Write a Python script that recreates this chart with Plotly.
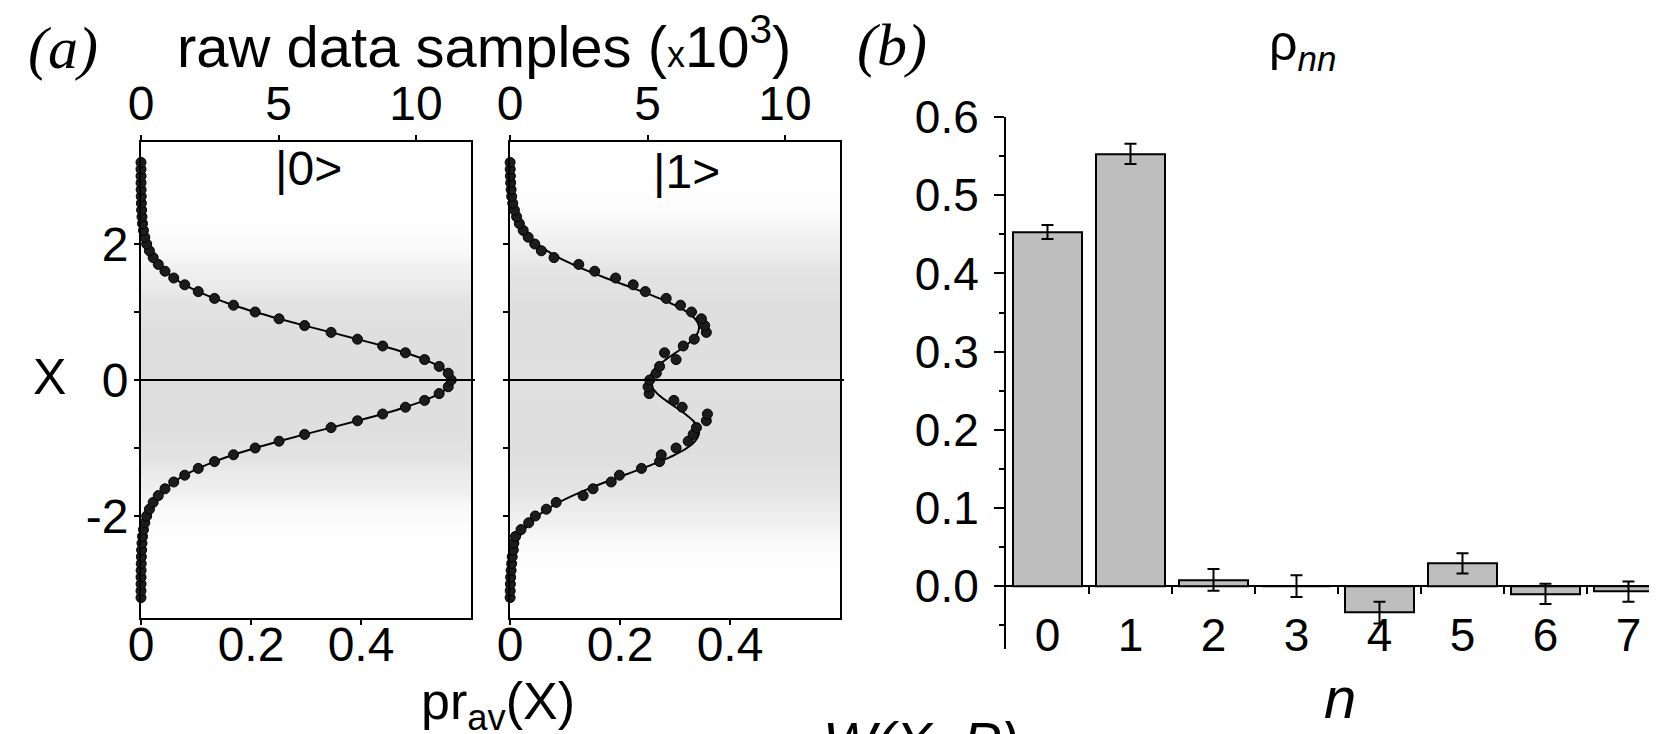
import plotly.graph_objects as go

# ---------------- data ----------------
X_GRID = [-3.2, -3.1, -3.0, -2.9, -2.8, -2.7, -2.6, -2.5, -2.4, -2.3, -2.2, -2.1, -2.0,
          -1.9, -1.8, -1.7, -1.6, -1.5, -1.4, -1.3, -1.2, -1.1, -1.0, -0.9, -0.8, -0.7,
          -0.6, -0.5, -0.4, -0.3, -0.2, -0.1, 0.0, 0.1, 0.2, 0.3, 0.4, 0.5, 0.6, 0.7,
          0.8, 0.9, 1.0, 1.1, 1.2, 1.3, 1.4, 1.5, 1.6, 1.7, 1.8, 1.9, 2.0, 2.1, 2.2,
          2.3, 2.4, 2.5, 2.6, 2.7, 2.8, 2.9, 3.0, 3.1, 3.2]

# |0> : fitted curve and measured points (points sit on the curve)
fit0 = [0.0000, 0.0000, 0.0001, 0.0001, 0.0002, 0.0004, 0.0007, 0.0011, 0.0018, 0.0028,
        0.0045, 0.0069, 0.0103, 0.0153, 0.0221, 0.0314, 0.0436, 0.0595, 0.0795, 0.1041,
        0.1337, 0.1682, 0.2076, 0.2510, 0.2975, 0.3456, 0.3936, 0.4394, 0.4808, 0.5156,
        0.5421, 0.5586, 0.5642, 0.5586, 0.5421, 0.5156, 0.4808, 0.4394, 0.3936, 0.3456,
        0.2975, 0.2510, 0.2076, 0.1682, 0.1337, 0.1041, 0.0795, 0.0595, 0.0436, 0.0314,
        0.0221, 0.0153, 0.0103, 0.0069, 0.0045, 0.0028, 0.0018, 0.0011, 0.0007, 0.0004,
        0.0002, 0.0001, 0.0001, 0.0000, 0.0000]
meas0 = [0.0000, 0.0000, 0.0001, 0.0001, 0.0002, 0.0004, 0.0007, 0.0011, 0.0018, 0.0028,
         0.0045, 0.0069, 0.0103, 0.0153, 0.0221, 0.0314, 0.0436, 0.0595, 0.0795, 0.1041,
         0.1337, 0.1682, 0.2076, 0.2510, 0.2975, 0.3456, 0.3936, 0.4394, 0.4808, 0.5156,
         0.5421, 0.5586, 0.5642, 0.5586, 0.5421, 0.5156, 0.4808, 0.4394, 0.3936, 0.3456,
         0.2975, 0.2510, 0.2076, 0.1682, 0.1337, 0.1041, 0.0795, 0.0595, 0.0436, 0.0314,
         0.0221, 0.0153, 0.0103, 0.0069, 0.0045, 0.0028, 0.0018, 0.0011, 0.0007, 0.0004,
         0.0002, 0.0001, 0.0001, 0.0000, 0.0000]

# |1> : fitted curve and measured points
fit1 = [0.0002, 0.0004, 0.0007, 0.0012, 0.0020, 0.0033, 0.0052, 0.0081, 0.0122, 0.0176,
        0.0260, 0.0366, 0.0500, 0.0676, 0.0887, 0.1140, 0.1424, 0.1740, 0.2072, 0.2404,
        0.2719, 0.2996, 0.3218, 0.3366, 0.3433, 0.3418, 0.3330, 0.3186, 0.3010, 0.2831,
        0.2678, 0.2575, 0.2539, 0.2575, 0.2678, 0.2831, 0.3010, 0.3186, 0.3330, 0.3418,
        0.3433, 0.3366, 0.3218, 0.2996, 0.2719, 0.2404, 0.2072, 0.1740, 0.1424, 0.1140,
        0.0887, 0.0676, 0.0500, 0.0366, 0.0260, 0.0176, 0.0122, 0.0081, 0.0052, 0.0033,
        0.0020, 0.0012, 0.0007, 0.0004, 0.0002]
meas1 = [0.0002, 0.0004, 0.0007, 0.0012, 0.0020, 0.0030, 0.0040, 0.0060, 0.0070, 0.0100,
         0.0200, 0.0340, 0.0460, 0.0660, 0.0840, 0.1330, 0.1510, 0.1840, 0.1990, 0.2390,
         0.2720, 0.2750, 0.3020, 0.3240, 0.3330, 0.3390, 0.3570, 0.3590, 0.3130, 0.2980,
         0.2530, 0.2510, 0.2540, 0.2660, 0.2720, 0.3020, 0.2810, 0.3150, 0.3350, 0.3570,
         0.3540, 0.3480, 0.3300, 0.3100, 0.2840, 0.2460, 0.2240, 0.1920, 0.1540, 0.1250,
         0.0800, 0.0570, 0.0450, 0.0330, 0.0240, 0.0170, 0.0120, 0.0080, 0.0050, 0.0030,
         0.0020, 0.0012, 0.0007, 0.0004, 0.0002]

SAMPLE_SPAN = [0, 12]          # raw data sample index range (x10^3)

# (b) diagonal density-matrix elements
n_vals = [0, 1, 2, 3, 4, 5, 6, 7]
rho_nn = [0.453, 0.553, 0.008, 0.000, -0.034, 0.029, -0.010, -0.007]
rho_err = [0.009, 0.013, 0.014, 0.014, 0.014, 0.013, 0.013, 0.013]

# ---------------- figure ----------------
W, H = 1657, 734
SANS = "Liberation Sans, Arial, sans-serif"
SERIF = "Liberation Serif, Times New Roman, serif"

def px_x(p):
    return p / W

def px_y(p):
    return 1 - p / H

fig = go.Figure()

cloud_scale = [[0.0, "#ffffff"], [0.02, "#fcfcfc"], [0.12, "#f0f0f0"],
               [0.45, "#e4e4e4"], [1.0, "#dfdfdf"]]

# samples axes (x, x3) are the base axes; pr axes (x2, x4) overlay them
for xs, xp, ya, fit, meas in [("x", "x2", "y", fit0, meas0), ("x3", "x4", "y2", fit1, meas1)]:
    fig.add_trace(go.Heatmap(
        x=SAMPLE_SPAN, y=X_GRID, z=[[v, v] for v in fit],
        xaxis=xs, yaxis=ya, colorscale=cloud_scale, zmin=0, zmax=0.3,
        zsmooth="best", showscale=False, hoverinfo="skip"))
    fig.add_trace(go.Scatter(
        x=fit, y=X_GRID, xaxis=xp, yaxis=ya, mode="lines",
        line=dict(color="black", width=2, shape="spline"),
        cliponaxis=False, showlegend=False, hoverinfo="skip"))
    fig.add_trace(go.Scatter(
        x=meas, y=X_GRID, xaxis=xp, yaxis=ya, mode="markers",
        marker=dict(size=10, color="#1c1c1c", line=dict(width=1, color="#000000")),
        cliponaxis=False, showlegend=False))

fig.add_trace(go.Bar(
    x=n_vals, y=rho_nn, xaxis="x5", yaxis="y3", width=0.82,
    marker=dict(color="#bebebe", line=dict(color="black", width=2)),
    error_y=dict(type="data", array=rho_err, color="black", thickness=2, width=6),
    showlegend=False))

ax_common = dict(showgrid=False, zeroline=False, showline=True, linecolor="black",
                 linewidth=2, ticks="outside", ticklen=5, tickwidth=2, tickcolor="black",
                 automargin=False,
                 tickfont=dict(family=SANS, size=48, color="black"))

A1 = [px_x(133), px_x(463)]
A2 = [px_x(502), px_x(832)]
AY = [px_y(610), px_y(134)]

pr_ticks = dict(tickvals=[0, 0.2, 0.4], ticktext=["0", "0.2", "0.4"], range=[0, 0.6],
                ticklabelstandoff=-22)
smp_ticks = dict(tickvals=[0, 5, 10], ticktext=["0", "5", "10"], range=[0, 12],
                 ticklabelstandoff=-4)
y_ticks = dict(range=[-3.5, 3.5], tickvals=[-2, 0, 2], ticktext=["-2", "0", "2"],
               ticklabelstandoff=-4,
               minor=dict(tickvals=[-1, 1], ticks="outside", ticklen=5, tickwidth=2,
                          tickcolor="black"))

fig.update_layout(
    width=W, height=H, margin=dict(l=0, r=0, t=0, b=0, autoexpand=False),
    paper_bgcolor="white", plot_bgcolor="white",
    showlegend=False, bargap=0,
    xaxis=dict(domain=A1, anchor="y", side="top", mirror=True, **smp_ticks, **ax_common),
    xaxis2=dict(overlaying="x", anchor="y", side="bottom", **pr_ticks, **ax_common),
    yaxis=dict(domain=AY, anchor="x", mirror=True, **y_ticks, **ax_common),
    xaxis3=dict(domain=A2, anchor="y2", side="top", mirror=True, **smp_ticks, **ax_common),
    xaxis4=dict(overlaying="x3", anchor="y2", side="bottom", **pr_ticks, **ax_common),
    yaxis2=dict(domain=AY, anchor="x3", mirror=True, showticklabels=False,
                **y_ticks, **ax_common),
    xaxis5=dict(domain=[px_x(998), 1.0], range=[-0.5, 7.44], anchor="free",
                position=px_y(578), showgrid=False, zeroline=False, showline=False,
                automargin=False,
                tickvals=n_vals, ticktext=[str(v) for v in n_vals], ticks="",
                ticklabelstandoff=18,
                tickfont=dict(family=SANS, size=46, color="black"),
                minor=dict(tickvals=[0.5, 1.5, 2.5, 3.5, 4.5, 5.5, 6.5], ticks="outside",
                           ticklen=7, tickwidth=2, tickcolor="black")),
    yaxis3=dict(domain=[px_y(640.6), px_y(109.2)], range=[-0.08, 0.6], anchor="x5",
                showgrid=False, zeroline=True, zerolinecolor="black", zerolinewidth=2,
                showline=True, linecolor="black", linewidth=2, automargin=False,
                tickvals=[0.0, 0.1, 0.2, 0.3, 0.4, 0.5, 0.6], tickformat=".1f",
                ticks="outside", ticklen=10, tickwidth=2, tickcolor="black",
                ticklabelstandoff=6,
                tickfont=dict(family=SANS, size=46, color="black"),
                minor=dict(tickvals=[-0.05, 0.05, 0.15, 0.25, 0.35, 0.45, 0.55],
                           ticks="outside", ticklen=5, tickwidth=2, tickcolor="black")),
)

for yref, xref in [("y", "x domain"), ("y2", "x3 domain")]:
    fig.add_shape(type="line", xref=xref, yref=yref, x0=-0.012, x1=1.012, y0=0, y1=0,
                  line=dict(color="black", width=2), layer="above")

def note(text, x, y, size, family=SANS, xanchor="center", yanchor="middle", italic=False):
    fig.add_annotation(text=f"<i>{text}</i>" if italic else text,
                       x=x, y=y, xref="paper", yref="paper", showarrow=False,
                       xanchor=xanchor, yanchor=yanchor,
                       font=dict(family=family, size=size, color="black"))

note("(a)", px_x(55), px_y(40), 60, family=SERIF, italic=True)
note("raw data samples (<span style='font-size:36px'>x</span>10<sup>3</sup>)",
     px_x(476), px_y(34), 58)
note("(b)", px_x(884), px_y(37), 60, family=SERIF, italic=True)
note("ρ<sub><i>nn</i></sub>", px_x(1294), px_y(39), 50)
note("|0>", px_x(300), px_y(160), 48)
note("|1>", px_x(678), px_y(163), 48)
note("X", px_x(41), px_y(369), 50)
note("pr<sub>av</sub>(X)", px_x(490), px_y(697), 52)
note("n", px_x(1332), px_y(689), 58, italic=True)
note("W(X, P)", px_x(813), px_y(700), 56, xanchor="left", yanchor="top", italic=True)

fig.write_html("out.html")
